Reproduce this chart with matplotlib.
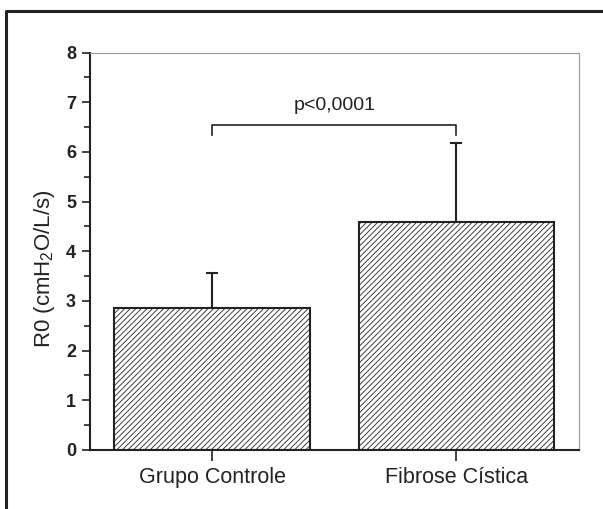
import matplotlib
matplotlib.use("Agg")
import matplotlib.pyplot as plt
from matplotlib.lines import Line2D
from matplotlib.ticker import MultipleLocator

plt.rcParams['font.family'] = ['Liberation Sans', 'DejaVu Sans']
plt.rcParams['mathtext.default'] = 'regular'
plt.rcParams['hatch.linewidth'] = 0.6
plt.rcParams['hatch.color'] = '#333333'

categories = ["Grupo Controle", "Fibrose Cística"]
means = [2.85, 4.58]
sd_upper = [0.71, 1.60]
p_text = "p<0,0001"
bracket_y = 6.54
bracket_drop = 0.2
yticks = [0, 1, 2, 3, 4, 5, 6, 7, 8]

fig = plt.figure(figsize=(6.03, 5.09), dpi=100)
ax = fig.add_axes([90/603, 1-450/509, (578.5-90)/603, (450-52.5)/509])

x = list(range(len(categories)))
ax.bar(x, means, width=0.8, color='white', edgecolor='#222222',
       linewidth=1.5, hatch='//////', zorder=2)
ax.errorbar(x, means, yerr=[[0]*len(means), sd_upper], fmt='none',
            ecolor='#222222', elinewidth=1.5, capsize=4.5, capthick=1.5, zorder=1)

# significance bracket
ax.plot([x[0], x[0], x[1], x[1]],
        [bracket_y - bracket_drop, bracket_y, bracket_y, bracket_y - bracket_drop],
        color='#222222', lw=1.2, clip_on=False)
ax.text((x[0]+x[1])/2, bracket_y + 0.22, p_text, ha='center', va='bottom',
        fontsize=14, color='#222222')

ax.set_xlim(-0.5, 1.5)
ax.set_ylim(0, 8)
ax.set_yticks(yticks)
ax.set_yticklabels([str(t) for t in yticks], fontweight='bold', fontsize=13)
ax.yaxis.set_minor_locator(MultipleLocator(0.5))
ax.set_xticks(x)
ax.set_xticklabels(categories, fontsize=15.5, color='#222222')
ax.tick_params(axis='y', which='major', length=6, width=1.2, pad=4, colors='#222222')
ax.tick_params(axis='y', which='minor', length=4, width=1.2, colors='#222222')
ax.tick_params(axis='x', which='major', length=8, width=1.2, pad=4, colors='#222222')

ax.set_ylabel(r'R0 (cmH$_\mathregular{2}$O/L/s)', fontsize=16, color='#222222')
ax.yaxis.set_label_coords(-(90-57)/(578.5-90), (450-269)/397.5)

for s in ['left', 'bottom']:
    ax.spines[s].set_linewidth(1.5)
    ax.spines[s].set_color('#222222')
for s in ['top', 'right']:
    ax.spines[s].set_linewidth(0.8)
    ax.spines[s].set_color('#999999')

# outer frame (left and top edges)
fig.add_artist(Line2D([6/603, 6/603, 1.0], [0.0, 1-11/509, 1-11/509],
                      transform=fig.transFigure, color='#222222', lw=2.2))

fig.savefig('out.png', dpi=100)
